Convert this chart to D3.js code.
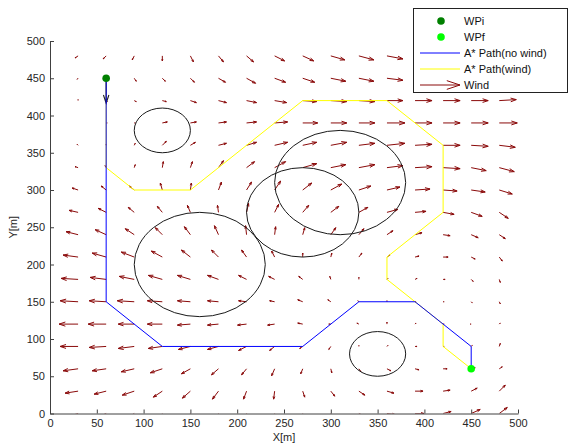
<!DOCTYPE html>
<html>
<head>
<meta charset="utf-8">
<script src="https://cdn.jsdelivr.net/npm/d3@7"></script>
<style>
  body { margin: 0; background: #fff; }
  svg { display: block; }
  text { font-family: "Liberation Sans", Arial, sans-serif; }
</style>
</head>
<body>
<svg id="chart" width="570" height="445"></svg>
<script>
// Wind sampling grid (metres)
const gridX = [0, 30, 60, 90, 120, 150, 180, 210, 240, 270, 300, 330, 360, 390, 420, 450, 480];
const gridY = [480, 450, 420, 390, 360, 330, 300, 270, 240, 210, 180, 150, 120, 90, 60, 30, 0];

// Wind components per grid row (top row first), east (U) and north (V)
const windU = [
  [ 0, -3, -3, -2,   0,   3,   5,  7, 10, 11, 14, 15, 16, 17, 17, 17, 17],
  [ 1, -1,  0,  2,   3,   4,   7,  9, 11, 12, 15, 15, 16, 17, 17, 17, 17],
  [ 0,  0,  1,  2,   4,   6,   8, 10, 12, 14, 16, 16, 16, 17, 17, 17, 17],
  [ 0,  0,  1,  1,   5,   6,   8, 10, 13, 15, 16, 16, 18, 17, 17, 17, 18],
  [ 0, -1,  0,  1,   4,   5,   8, 10, 13, 14, 16, 16, 18, 17, 17, 17, 16],
  [ 0, -3, -1,  1,   1,   2,   5,  8, 11, 14, 15, 16, 16, 17, 17, 15, 15],
  [-1, -6, -5, -5,  -2,   1,   3,  5,  6,  9, 11, 12, 13, 15, 14, 14, 13],
  [-1, -9, -8, -6,  -5,  -3,  -1,  2,  4,  6,  8,  9, 11, 11, 11, 11,  9],
  [-1,-12,-11, -9,  -7,  -6,  -4, -1,  1,  2,  5,  5,  6,  7,  7,  7,  6],
  [-2,-15,-14,-13, -11,  -9,  -7, -5, -3,  0,  1,  3,  3,  4,  5,  4,  3],
  [-2,-17,-16,-15, -14, -13, -11, -8, -6, -4, -1,  0,  1,  2,  2,  2,  1],
  [-2,-18,-17,-17, -15, -13, -11, -8, -5, -5, -3, -1,  0,  1,  1,  1,  1],
  [-1,-19,-18,-16, -15, -13, -11, -9, -7, -5, -2, -2,  0,  1,  1, -1,  1],
  [-1,-18,-17,-16, -14, -12, -11, -8, -5, -3, -2,  0,  1,  2,  1,  1,  1],
  [-1,-15,-14,-13, -12,  -9,  -7, -5, -3, -2,  1,  2,  4,  4,  4,  4,  3],
  [-1,-13,-12,-12,  -9,  -8,  -6, -3, -1,  2,  4,  6,  7,  8,  7,  6,  6],
  [ 0,-10,-10, -9,  -7,  -5,  -3, -1,  1,  3,  5,  7,  8,  9,  8,  9,  8]
];
const windV = [
  [-1, -2, -3, -4,  -5,  -6,  -6, -6, -5, -5, -4, -4, -3, -2, -2, -1, -1],
  [ 0, -1, -2, -3,  -3,  -4,  -4, -5, -4, -4, -3, -3, -2, -1, -1, -1,  0],
  [ 0,  1, -1, -1,  -1,  -2,  -2, -2, -2, -1, -1, -1,  0,  0,  0,  0,  1],
  [ 0,  0,  0,  0,   1,   1,   1,  1,  1,  0,  0,  0,  0,  0,  0,  0,  0],
  [ 0,  1,  1,  2,   4,   3,   2,  3,  3,  3,  3,  2,  2,  1,  0, -1, -2],
  [ 0,  1,  2,  3,   6,   6,   7,  6,  6,  4,  3,  3,  2,  1, -1, -3, -4],
  [ 0,  2,  4,  4,   7,   7,   8,  8,  9,  7,  6,  4,  3,  1, -1, -2, -4],
  [ 0,  2,  4,  5,   6,   7,   7,  9,  8,  7,  6,  5,  3,  1, -2, -4, -6],
  [ 0,  3,  5,  6,   7,   8,   9,  9,  8,  7,  7,  6,  4,  2, -1, -3, -4],
  [ 0,  2,  4,  5,   6,   7,   7,  7,  6,  4,  4,  4,  2,  1,  0, -2, -4],
  [ 0,  1,  2,  3,   4,   4,   4,  4,  3,  3,  3,  2,  1,  1,  0, -2, -3],
  [ 0,  1,  1,  1,   1,   1,   1,  1,  1,  2,  2,  1,  1,  0,  0, -1, -2],
  [ 0,  0,  0,  0,   0,  -1,  -1, -1, -1,  1,  0,  1,  2,  1,  0,  0,  1],
  [ 0,  0, -1, -2,  -2,  -3,  -3, -4, -4, -2, -3,  1,  1,  0,  0,  1,  3],
  [ 0, -2, -2, -3,  -4,  -5,  -6, -6, -7, -5, -4, -3, -2, -1,  0,  1,  2],
  [ 0, -2, -3, -4,  -6,  -7,  -8, -8, -8, -6, -5, -4, -2,  0,  1,  3,  6],
  [-1, -3, -4, -5,  -7,  -8,  -9, -9, -8, -7, -5, -3, -1,  0,  2,  4,  6]
];

// Circular obstacles
const obstacleX = [120, 160, 270, 310, 350];
const obstacleY = [380, 200, 270, 310,  80];
const obstacleR = [ 30,  70,  60,  70,  30];

// Waypoints and planned paths
const wpStart = [60, 450];
const wpEnd = [450, 60];
const initialHeading = [0, -25];
const pathNoWind = [[60,450],[60,150],[120,90],[270,90],[330,150],[390,150],[450,90],[450,60]];
const pathWind = [[60,450],[60,330],[90,300],[150,300],[270,420],[360,420],[420,360],[420,270],
                  [360,210],[360,180],[390,150],[420,120],[420,90],[450,60]];

const xTicks = [0, 50, 100, 150, 200, 250, 300, 350, 400, 450, 500];
const yTicks = [0, 50, 100, 150, 200, 250, 300, 350, 400, 450, 500];
const legendLabels = ["WPi", "WPf", "A* Path(no wind)", "A* Path(wind)", "Wind"];

const svg = d3.select("#chart");
const x = d3.scaleLinear().domain([0, 500]).range([50, 518]);
const y = d3.scaleLinear().domain([0, 500]).range([413.5, 41]);
const arrowLen = d3.scaleLinear().domain([0, 20]).range([0, 20]);

const WIND = "#8a0a0a";

svg.append("defs").append("clipPath").attr("id", "plotClip")
  .append("rect")
  .attr("x", x(0)).attr("y", y(500))
  .attr("width", x(500) - x(0)).attr("height", y(0) - y(500));

// quiver-style arrow: shaft plus two head strokes
function arrowPath(x0, y0, dx, dy) {
  const a = 0.33, b = 0.33;
  const tx = x0 + dx, ty = y0 + dy;
  const p = d3.path();
  p.moveTo(x0, y0); p.lineTo(tx, ty);
  p.moveTo(tx - a * (dx + b * dy), ty - a * (dy - b * dx));
  p.lineTo(tx, ty);
  p.lineTo(tx - a * (dx - b * dy), ty - a * (dy + b * dx));
  return p.toString();
}

// wind field
const windData = [];
gridY.forEach((gy, i) => gridX.forEach((gx, j) => {
  windData.push({ gx, gy, u: windU[i][j], v: windV[i][j] });
}));

const plot = svg.append("g").attr("clip-path", "url(#plotClip)");
plot.append("g").selectAll("path").data(windData).join("path")
  .attr("d", d => {
    const m = Math.hypot(d.u, d.v);
    const k = m === 0 ? 0 : arrowLen(m) / m;
    return arrowPath(x(d.gx), y(d.gy), d.u * k, -d.v * k);
  })
  .attr("fill", "none").attr("stroke", WIND).attr("stroke-width", 1);

// obstacles
plot.append("g").selectAll("ellipse").data(obstacleX).join("ellipse")
  .attr("cx", (d, i) => x(obstacleX[i]))
  .attr("cy", (d, i) => y(obstacleY[i]))
  .attr("rx", (d, i) => x(obstacleR[i]) - x(0))
  .attr("ry", (d, i) => y(0) - y(obstacleR[i]))
  .attr("fill", "none").attr("stroke", "#1a1a1a").attr("stroke-width", 1);

const line = d3.line().x(d => x(d[0])).y(d => y(d[1]));

plot.append("path").datum(pathWind).attr("d", line)
  .attr("fill", "none").attr("stroke", "#ffff00").attr("stroke-width", 1);

plot.append("path")
  .attr("d", arrowPath(x(wpStart[0]), y(wpStart[1]), arrowLen(initialHeading[0]), -arrowLen(initialHeading[1])))
  .attr("fill", "none").attr("stroke", "#222").attr("stroke-width", 1.1);

plot.append("path").datum(pathNoWind).attr("d", line)
  .attr("fill", "none").attr("stroke", "#0000ff").attr("stroke-width", 1);

svg.append("circle").attr("cx", x(wpStart[0])).attr("cy", y(wpStart[1])).attr("r", 3.8).attr("fill", "#008000");
svg.append("circle").attr("cx", x(wpEnd[0])).attr("cy", y(wpEnd[1])).attr("r", 3.8).attr("fill", "#00ff00");

// axes
const xAxis = svg.append("g").attr("transform", `translate(0,${y(0)})`)
  .call(d3.axisBottom(x).tickValues(xTicks).tickSizeInner(-4).tickSizeOuter(0).tickPadding(6));
const yAxis = svg.append("g").attr("transform", `translate(${x(0)},0)`)
  .call(d3.axisLeft(y).tickValues(yTicks).tickSizeInner(-4).tickSizeOuter(0).tickPadding(5));
[xAxis, yAxis].forEach(g => {
  g.selectAll("path, line").attr("stroke", "#404040");
  g.selectAll("text").attr("fill", "#262626").style("font-size", "11px")
    .style("font-family", "'Liberation Sans', Arial, sans-serif");
});

svg.append("text").attr("x", (x(0) + x(500)) / 2).attr("y", 441)
  .attr("text-anchor", "middle").attr("fill", "#262626").style("font-size", "11px").text("X[m]");
svg.append("text").attr("transform", `translate(17,${(y(0) + y(500)) / 2}) rotate(-90)`)
  .attr("text-anchor", "middle").attr("fill", "#262626").style("font-size", "11px").text("Y[m]");

// legend
const lg = svg.append("g");
lg.append("rect").attr("x", 413.5).attr("y", 8.5).attr("width", 154).attr("height", 84)
  .attr("fill", "#fff").attr("stroke", "#222").attr("stroke-width", 1);
const rowY = i => 21 + 16 * i;
lg.append("circle").attr("cx", 441).attr("cy", rowY(0)).attr("r", 3.8).attr("fill", "#008000");
lg.append("circle").attr("cx", 441).attr("cy", rowY(1)).attr("r", 3.8).attr("fill", "#00ff00");
lg.append("line").attr("x1", 420).attr("x2", 460).attr("y1", rowY(2)).attr("y2", rowY(2))
  .attr("stroke", "#0000ff").attr("stroke-width", 1);
lg.append("line").attr("x1", 420).attr("x2", 460).attr("y1", rowY(3)).attr("y2", rowY(3))
  .attr("stroke", "#ffff00").attr("stroke-width", 1);
lg.append("path").attr("d", arrowPath(420, rowY(4), 40, 0))
  .attr("fill", "none").attr("stroke", WIND).attr("stroke-width", 1);
lg.selectAll("text.lab").data(legendLabels).join("text").attr("class", "lab")
  .attr("x", 464).attr("y", (d, i) => rowY(i) + 4)
  .attr("fill", "#111").style("font-size", "11px").text(d => d);
</script>
</body>
</html>
